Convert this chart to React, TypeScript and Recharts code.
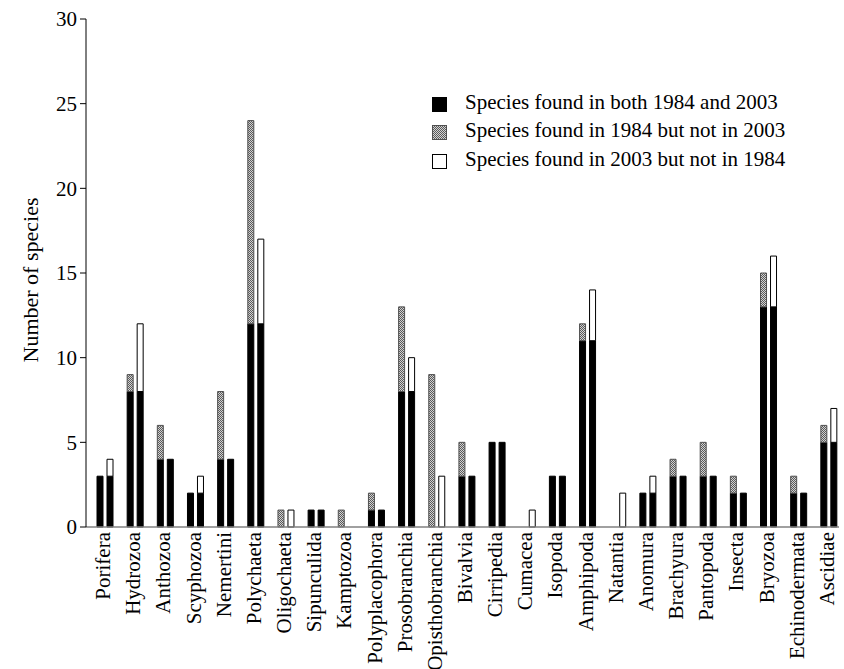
import React from "react";
import { BarChart, Bar, XAxis, YAxis, Legend } from "recharts";

const categories = [
  "Porifera", "Hydrozoa", "Anthozoa", "Scyphozoa", "Nemertini", "Polychaeta",
  "Oligochaeta", "Sipunculida", "Kamptozoa", "Polyplacophora", "Prosobranchia",
  "Opisthobranchia", "Bivalvia", "Cirripedia", "Cumacea", "Isopoda", "Amphipoda",
  "Natantia", "Anomura", "Brachyura", "Pantopoda", "Insecta", "Bryozoa",
  "Echinodermata", "Ascidiae",
];
const both = [3, 8, 4, 2, 4, 12, 0, 1, 0, 1, 8, 0, 3, 5, 0, 3, 11, 0, 2, 3, 3, 2, 13, 2, 5];
const only1984 = [0, 1, 2, 0, 4, 12, 1, 0, 1, 1, 5, 9, 2, 0, 0, 0, 1, 0, 0, 1, 2, 1, 2, 1, 1];
const only2003 = [1, 4, 0, 1, 0, 5, 1, 0, 0, 0, 2, 3, 0, 0, 1, 0, 3, 2, 1, 0, 0, 0, 3, 0, 2];
const yTicks = [0, 5, 10, 15, 20, 25, 30];
const legendLabels = [
  "Species found in both 1984 and 2003",
  "Species found in 1984 but not in 2003",
  "Species found in 2003 but not in 1984",
];

const data = categories.map((name, i) => ({
  name,
  both84: both[i],
  lost: only1984[i],
  both03: both[i],
  gained: only2003[i],
}));

const FONT = '"Liberation Serif", "Times New Roman", serif';

const XTick = (props: any) => {
  const { x, y, payload } = props;
  const ty = y + 5;
  return (
    <text
      x={x}
      y={ty}
      dy={5}
      transform={`rotate(-90, ${x}, ${ty})`}
      textAnchor="end"
      fontFamily={FONT}
      fontSize={21}
      fill="#000"
    >
      {payload.value}
    </text>
  );
};

const LegendContent = () => {
  const swatches = [
    { background: "#000", border: "1px solid #000" },
    {
      background:
        "repeating-conic-gradient(#5a5a5a 0% 25%, #d2d2d2 0% 50%) 0 0 / 2px 2px",
      border: "1px solid #505050",
    },
    { background: "#fff", border: "1px solid #000" },
  ];
  return (
    <div style={{ fontFamily: FONT, fontSize: 21, color: "#000" }}>
      {legendLabels.map((label, i) => (
        <div
          key={label}
          style={{ display: "flex", alignItems: "center", height: 28.5, whiteSpace: "nowrap" }}
        >
          <div
            style={{
              width: 13,
              height: 13,
              boxSizing: "content-box",
              ...swatches[i],
              marginRight: 18,
              flexShrink: 0,
            }}
          />
          <span style={{ lineHeight: "21px", position: "relative", top: -2 }}>{label}</span>
        </div>
      ))}
    </div>
  );
};

export default function App() {
  return (
    <div style={{ position: "fixed", left: 8, top: 8, width: 831, height: 661, overflow: "hidden", background: "#fff" }}>
      <BarChart
        width={836}
        height={661}
        data={data}
        margin={{ top: 11, right: 0, left: 0, bottom: 0 }}
        barSize={6}
        barGap={4}
      >
        <defs>
          <pattern id="greyDots" width="2" height="2" patternUnits="userSpaceOnUse">
            <rect x="0" y="0" width="2" height="2" fill="#d2d2d2" />
            <rect x="0" y="0" width="1" height="1" fill="#5a5a5a" />
            <rect x="1" y="1" width="1" height="1" fill="#5a5a5a" />
          </pattern>
        </defs>
        <XAxis
          dataKey="name"
          interval={0}
          tick={<XTick />}
          tickLine={false}
          tickSize={0}
          tickMargin={0}
          axisLine={{ stroke: "#808080", strokeWidth: 1.5 }}
          padding={{ left: 4, right: 0 }}
          height={142}
        />
        <YAxis
          width={78}
          domain={[0, 30]}
          ticks={yTicks}
          interval={0}
          tickSize={6}
          tickMargin={3}
          tickLine={{ stroke: "#000" }}
          axisLine={{ stroke: "#000" }}
          tick={{ fontSize: 21, fontFamily: FONT, fill: "#000" }}
          label={{
            content: () => (
              <text
                x={22}
                y={272}
                transform="rotate(-90, 22, 272)"
                textAnchor="middle"
                dominantBaseline="central"
                fontFamily={FONT}
                fontSize={22}
                fill="#000"
              >
                Number of species
              </text>
            ),
          }}
        />
        <Legend
          layout="vertical"
          align="center"
          verticalAlign="middle"
          content={<LegendContent />}
          wrapperStyle={{ position: "absolute", left: 424, top: 82, width: 400 }}
        />
        <Bar dataKey="both84" stackId="a" fill="#000" stroke="#000" strokeWidth={1} isAnimationActive={false} />
        <Bar dataKey="lost" stackId="a" fill="url(#greyDots)" stroke="#505050" strokeWidth={1} isAnimationActive={false} />
        <Bar dataKey="both03" stackId="b" fill="#000" stroke="#000" strokeWidth={1} isAnimationActive={false} />
        <Bar dataKey="gained" stackId="b" fill="#fff" stroke="#000" strokeWidth={1} isAnimationActive={false} />
      </BarChart>
    </div>
  );
}
